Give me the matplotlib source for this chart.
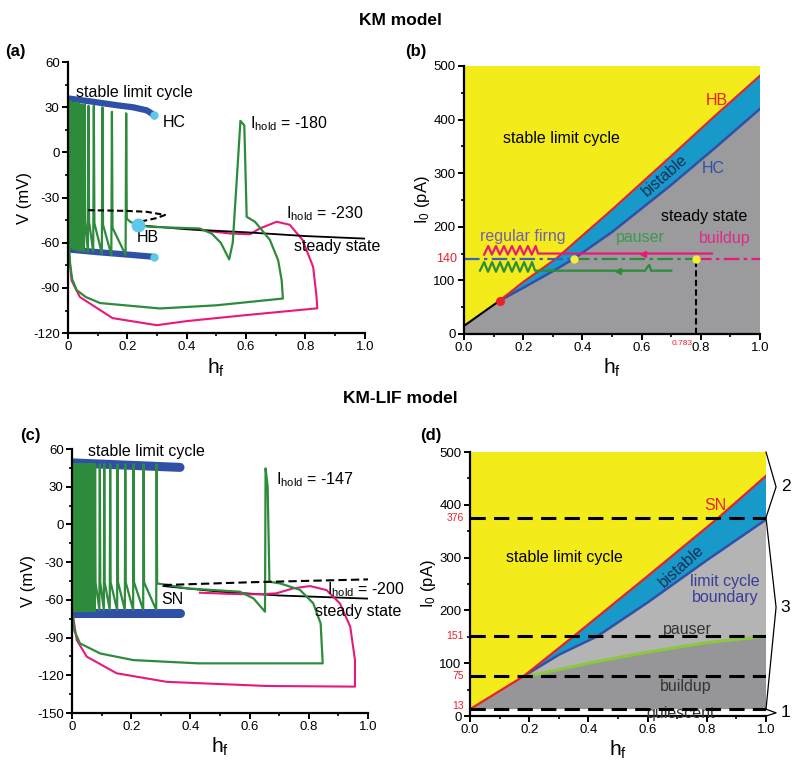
import numpy as np
import matplotlib
matplotlib.use('Agg')
import matplotlib.pyplot as plt
from matplotlib.ticker import MultipleLocator, FuncFormatter
import matplotlib.transforms as mtransforms

plt.rcParams['font.family'] = ['Liberation Sans', 'DejaVu Sans']
plt.rcParams['mathtext.fontset'] = 'custom'
plt.rcParams['mathtext.rm'] = 'Liberation Sans'
plt.rcParams['mathtext.it'] = 'Liberation Sans'
plt.rcParams['axes.unicode_minus'] = False

# ---------------- colours ----------------
YELLOW = '#f4ec1a'
GRAY = '#9b9b9d'
LGRAY = '#b4b4b4'
DGRAY = '#969698'
BAND = '#1799c9'
RED = '#e8202a'
NAVY = '#3050a8'
GREEN = '#2e8b3c'
PINK = '#e8197a'
CYAN = '#5ec8e8'
LIME = '#8dc63f'

# ---------------- panel (a): KM model, V vs h_f ----------------
a_lc_top_h = [0.0, 0.08, 0.164, 0.22, 0.265, 0.285, 0.29]
a_lc_top_v = [35.9, 33.8, 31.4, 30.0, 28.0, 25.5, 24.0]
a_lc_bot_h = [0.0, 0.1, 0.2, 0.29]
a_lc_bot_v = [-64.4, -66.2, -67.8, -69.3]
a_hc_h = [0.29, 0.29]
a_hc_v = [24.8, -69.3]
a_hb = (0.237, -48.3)
a_unst_h = [0.068, 0.2, 0.265, 0.327, 0.30, 0.242]
a_unst_v = [-38.3, -38.8, -39.4, -41.5, -43.5, -46.0]
a_ss_h = [0.237, 0.4, 0.6, 0.8, 1.0]
a_ss_v = [-48.3, -51.0, -53.0, -55.5, -57.2]

a_spk_h = [0.004, 0.008, 0.012, 0.016, 0.020, 0.024, 0.029, 0.034, 0.040,
           0.047, 0.056, 0.069, 0.087, 0.116, 0.148, 0.196]
a_spk_peak = [34, 34, 33, 33, 33, 33, 33, 33, 32, 32, 32, 31, 31, 30, 27, 26]
a_spk_trough = [-62, -63, -63, -63, -64, -64, -64, -65, -65, -65, -66, -66,
                -66, -67, -68, -68]
a_spk_fall = [-40, -40, -40, -40, -40, -42, -42, -44, -44, -45, -45, -46,
              -47, -48, -50, -44]
a_green_tail_h = [0.21, 0.23, 0.276, 0.40, 0.444, 0.484, 0.515, 0.543, 0.555,
                  0.568, 0.581, 0.594, 0.602, 0.63, 0.68, 0.708, 0.72, 0.724,
                  0.50, 0.31, 0.108, 0.06, 0.029, 0.014, 0.007, 0.004]
a_green_tail_v = [-46, -48, -49.4, -50.2, -50.5, -53.8, -60, -71, -60, -20,
                  21, 18, -42.7, -46, -58, -71.5, -85, -97, -101.5, -103.6,
                  -100, -96, -91.4, -84, -74, -62]
a_pink_h = [0.40, 0.545, 0.613, 0.646, 0.703, 0.747, 0.79, 0.826, 0.837,
            0.84, 0.60, 0.40, 0.299, 0.15, 0.04, 0.012, 0.005]
a_pink_v = [-50.5, -53.8, -54.3, -50.5, -46, -48, -58, -76, -95, -103.5,
            -108, -112, -114.7, -110, -96, -85, -70]

# ---------------- panel (b): KM model, I0 vs h_f ----------------
b_hb_h = [0.12, 0.2, 0.31, 0.5, 0.7, 0.85, 1.0]
b_hb_i = [62, 97, 140, 232, 332, 408, 482]
b_hc_h = [0.12, 0.2, 0.3, 0.37, 0.5, 0.7, 0.85, 1.0]
b_hc_i = [62, 86, 117, 140, 190, 278, 348, 420]
b_lo_h = [0.0, 0.12]
b_lo_i = [15, 62]
b_hold = 140
b_split = [0.37, 0.783]
b_pk_zz_h = [0.068, 0.082, 0.094, 0.108, 0.121, 0.135, 0.148, 0.162, 0.175,
             0.189, 0.202, 0.216, 0.229, 0.242, 0.25]
b_pk_zz_i = [148, 164, 148, 164, 148, 164, 148, 164, 148, 164, 148, 164,
             148, 164, 150]
b_pk_line_h = [0.25, 0.837]
b_pk_line_i = [150, 150]
b_gr_zz_h = [0.054, 0.068, 0.081, 0.095, 0.108, 0.122, 0.135, 0.149, 0.162,
             0.176, 0.189, 0.203, 0.216, 0.23, 0.24]
b_gr_zz_i = [118, 134, 116, 134, 116, 134, 116, 134, 116, 134, 116, 134,
             116, 134, 118]
b_gr_line_h = [0.24, 0.612, 0.62, 0.626, 0.632, 0.70]
b_gr_line_i = [118, 118, 125, 129, 118, 118]
b_arrow_h = [0.606, 0.52]
b_arrow_i = [150, 118]

# ---------------- panel (c): KM-LIF model, V vs h_f ----------------
c_lc_top_h = [0.0, 0.365]
c_lc_top_v = [49.0, 45.4]
c_lc_bot_h = [0.0, 0.365]
c_lc_bot_v = [-70.7, -70.7]
c_unst_h = [0.309, 0.6, 1.0]
c_unst_v = [-48.2, -46.0, -43.7]
c_ss_h = [0.309, 0.5, 0.7, 1.0]
c_ss_v = [-49.0, -53.5, -56.5, -59.0]
c_spk_h = [0.004, 0.008, 0.012, 0.016, 0.020, 0.024, 0.028, 0.032, 0.036,
           0.040, 0.044, 0.048, 0.052, 0.056, 0.060, 0.064, 0.068, 0.072,
           0.078, 0.094, 0.109, 0.129, 0.154, 0.18, 0.208, 0.242, 0.286]
c_spk_peak = [48] * 27
c_spk_trough = [-69, -69, -69, -69, -69, -69, -69, -69, -69, -69, -69, -69,
                -69, -69, -69, -69, -69, -69, -69, -68, -68, -68, -68, -68,
                -68, -68, -68]
c_spk_fall = [-46, -46, -46, -46, -46, -46, -46, -46, -46, -46, -46, -46,
              -46, -46, -46, -46, -46, -46, -46, -46, -46, -46, -46, -46,
              -46, -46, -46.9]
c_green_tail_h = [0.32, 0.387, 0.477, 0.567, 0.613, 0.652, 0.654, 0.661,
                  0.667, 0.703, 0.77, 0.815, 0.84, 0.847, 0.60, 0.428, 0.207,
                  0.095, 0.027, 0.007, 0.003]
c_green_tail_v = [-48, -50.8, -52.2, -53.5, -58.8, -69.4, 44.6, 30, -45.6,
                  -46.9, -52, -62.7, -78.7, -110.5, -110.5, -110.5, -107.9,
                  -102.6, -94.6, -84, -73]
c_pink_h = [0.432, 0.545, 0.633, 0.69, 0.748, 0.804, 0.86, 0.905, 0.94,
            0.956, 0.956, 0.658, 0.32, 0.151, 0.05, 0.016, 0.005]
c_pink_v = [-54.3, -55.3, -55.6, -54.8, -50.8, -49, -52.2, -62.8, -81.3,
            -107.9, -129, -128.5, -125.2, -118.4, -105.2, -92, -75]

# ---------------- panel (d): KM-LIF model, I0 vs h_f ----------------
d_sn_h = [0.0, 0.18, 0.35, 0.6, 0.84, 1.0]
d_sn_i = [13, 75, 151, 265, 376, 455]
d_lcb_h = [0.18, 0.3, 0.43, 0.6, 0.8, 1.0]
d_lcb_i = [75, 116, 151, 215, 295, 372]
d_pb_h = [0.18, 0.2, 0.4, 0.6, 0.8, 1.0]
d_pb_i = [75, 76, 100, 121, 139, 151]
d_levels = [13, 75, 151, 376]
d_brace_top = 500


def spike_train(hs, peaks, troughs, falls, d):
    xs, ys = [], []
    for h, p, t, f in zip(hs, peaks, troughs, falls):
        xs += [h - d, h, h + d]
        ys += [t, p, f]
    return xs, ys


def style_axes(ax, ymaj, ymin, zero_fmt):
    for s in ['top', 'right']:
        ax.spines[s].set_visible(False)
    for s in ['left', 'bottom']:
        ax.spines[s].set_linewidth(1.6)
    ax.xaxis.set_major_locator(MultipleLocator(0.2))
    ax.xaxis.set_minor_locator(MultipleLocator(0.1))
    ax.yaxis.set_major_locator(MultipleLocator(ymaj))
    ax.yaxis.set_minor_locator(MultipleLocator(ymin))
    ax.tick_params(which='major', direction='out', length=4, width=1.4,
                   labelsize=9.5, pad=2)
    ax.tick_params(which='minor', direction='out', length=2.5, width=1.2)
    if zero_fmt:
        ax.xaxis.set_major_formatter(FuncFormatter(
            lambda v, p: '0' if abs(v) < 1e-9 else '%.1f' % v))
    else:
        ax.xaxis.set_major_formatter(FuncFormatter(lambda v, p: '%.1f' % v))
    ax.set_xlim(0, 1.0)
    ax.set_xlabel(r'h$_{\rm f}$', fontsize=15, labelpad=2)


fig = plt.figure(figsize=(8.0, 7.73), dpi=100)

# ===== (a) =====
ax = fig.add_axes([0.085, 0.569, 0.371, 0.3506])
x, y = spike_train(a_spk_h, a_spk_peak, a_spk_trough, a_spk_fall, 0.002)
ax.plot(a_pink_h, a_pink_v, color=PINK, lw=1.5)
ax.plot(a_ss_h, a_ss_v, color='black', lw=1.3)
ax.plot(a_lc_top_h, a_lc_top_v, color=NAVY, lw=4.5, solid_capstyle='round')
ax.plot(a_lc_bot_h, a_lc_bot_v, color=NAVY, lw=4.5, solid_capstyle='round')
ax.plot(x + a_green_tail_h, y + a_green_tail_v, color=GREEN, lw=1.6)
ax.plot(a_unst_h, a_unst_v, color='black', lw=1.5, ls=(0, (3, 1.6)))
ax.plot(a_hc_h, a_hc_v, 'o', color=CYAN, ms=5, zorder=5)
ax.plot([a_hb[0]], [a_hb[1]], 'o', color=CYAN, ms=9, zorder=5)
ax.set_ylim(-120, 60)
style_axes(ax, 30, 15, True)
ax.set_ylabel('V (mV)', fontsize=12, labelpad=1)
ax.text(0.027, 40, 'stable limit cycle', fontsize=11.5, va='center')
ax.text(0.32, 19.7, 'HC', fontsize=11.5, va='center')
ax.text(0.613, 19, r'I$_{\rm hold}$ = -180', fontsize=11.5, va='center')
ax.text(0.734, -40.5, r'I$_{\rm hold}$ = -230', fontsize=11.5, va='center')
ax.text(0.27, -56.7, 'HB', fontsize=11.5, va='center', ha='center')
ax.text(0.907, -62.7, 'steady state', fontsize=11.5, va='center',
        ha='center')

# ===== (b) =====
ax = fig.add_axes([0.58, 0.568, 0.37, 0.3467])
ax.set_facecolor(YELLOW)
gx = [0.0] + b_lo_h + b_hc_h[1:] + [1.0]
gy = [0.0] + b_lo_i + b_hc_i[1:] + [0.0]
ax.fill(gx, gy, color=GRAY, lw=0)
ax.fill(b_hb_h + b_hc_h[::-1], b_hb_i + b_hc_i[::-1], color=BAND, lw=0)
ax.plot(b_hc_h, b_hc_i, color=NAVY, lw=1.8)
ax.plot(b_hb_h, b_hb_i, color=RED, lw=1.5)
ax.plot(b_lo_h, b_lo_i, color='black', lw=1.5)
ax.plot([b_lo_h[1]], [b_lo_i[1]], 'o', color=RED, ms=5.5, zorder=6)
ax.plot([0, b_split[0]], [b_hold, b_hold], color='#3b5fc4', lw=1.6,
        ls=(0, (7, 2, 1.5, 2)))
ax.plot([b_split[0], b_split[1]], [b_hold, b_hold], color=GREEN, lw=1.6,
        ls=(0, (7, 2, 1.5, 2)))
ax.plot([b_split[1], 1.0], [b_hold, b_hold], color=PINK, lw=1.6,
        ls=(0, (7, 2, 1.5, 2)))
ax.plot([b_split[1], b_split[1]], [0, b_hold], color='black', lw=1.5,
        ls=(0, (3, 1.6)))
ax.plot(b_pk_zz_h + b_pk_line_h, b_pk_zz_i + b_pk_line_i, color=PINK, lw=1.6)
ax.plot(b_gr_zz_h + b_gr_line_h, b_gr_zz_i + b_gr_line_i, color=GREEN, lw=1.6)
ax.plot(b_arrow_h[:1], b_arrow_i[:1], '<', color=PINK, ms=5)
ax.plot(b_arrow_h[1:], b_arrow_i[1:], '<', color=GREEN, ms=5)
ax.plot(b_split, [b_hold, b_hold], 'o', color='#f2ee3a', ms=5, zorder=6)
ax.set_ylim(0, 500)
style_axes(ax, 100, 50, False)
ax.set_ylabel(r'I$_0$ (pA)', fontsize=12, labelpad=1)
trb = mtransforms.blended_transform_factory(ax.transAxes, ax.transData)
ax.text(-0.025, b_hold, '140', transform=trb, color=RED, fontsize=9,
        ha='right', va='center')
trx = mtransforms.blended_transform_factory(ax.transData, ax.transAxes)
ax.text(b_split[1] - 0.012, -0.035, '0.783', transform=trx, color=RED,
        fontsize=6, ha='right', va='center')
ax.text(0.33, 365, 'stable limit cycle', fontsize=11.5, ha='center',
        va='center')
ax.text(0.68, 296, 'bistable', fontsize=11.5, ha='center', va='center',
        rotation=41, color='#1b2f55')
ax.text(0.853, 435, 'HB', fontsize=11.5, ha='center', va='center', color=RED)
ax.text(0.842, 309, 'HC', fontsize=11.5, ha='center', va='center', color=NAVY)
ax.text(0.81, 220, 'steady state', fontsize=11.5, ha='center', va='center')
ax.text(0.2, 181, 'regular firng', fontsize=11.5, ha='center', va='center',
        color='#7060b0')
ax.text(0.597, 180, 'pauser', fontsize=11.5, ha='center', va='center',
        color='#3a9a4a')
ax.text(0.88, 178, 'buildup', fontsize=11.5, ha='center', va='center',
        color='#e0288a')

# ===== (c) =====
ax = fig.add_axes([0.09, 0.0776, 0.37, 0.3415])
x, y = spike_train(c_spk_h, c_spk_peak, c_spk_trough, c_spk_fall, 0.0015)
ax.plot(c_ss_h, c_ss_v, color='black', lw=1.3)
ax.plot(c_pink_h, c_pink_v, color=PINK, lw=1.5)
ax.plot(c_lc_top_h, c_lc_top_v, color=NAVY, lw=6.5, solid_capstyle='round')
ax.plot(c_lc_bot_h, c_lc_bot_v, color=NAVY, lw=6.5, solid_capstyle='round')
ax.plot(x + c_green_tail_h, y + c_green_tail_v, color=GREEN, lw=1.6)
ax.plot(c_unst_h, c_unst_v, color='black', lw=1.5, ls=(0, (4, 2)))
ax.set_ylim(-150, 60)
style_axes(ax, 30, 15, True)
ax.set_ylabel('V (mV)', fontsize=12, labelpad=1)
ax.text(0.055, 58, 'stable limit cycle', fontsize=11.5, va='center')
ax.text(0.69, 35.3, r'I$_{\rm hold}$ = -147', fontsize=11.5, va='center')
ax.text(0.86, -52, r'I$_{\rm hold}$ = -200', fontsize=11.5, va='center')
ax.text(0.34, -59.6, 'SN', fontsize=11.5, ha='center', va='center')
ax.text(0.82, -68.9, 'steady state', fontsize=11.5, va='center')

# ===== (d) =====
ax = fig.add_axes([0.5875, 0.0737, 0.37, 0.3415])
ax.set_facecolor(YELLOW)
ax.fill([0, 1, 1, 0], [0, 0, d_levels[0], d_levels[0]], color='white', lw=0)
dgx = d_sn_h[:2] + d_pb_h[1:] + [1.0]
dgy = d_sn_i[:2] + d_pb_i[1:] + [d_levels[0]]
ax.fill(dgx, dgy, color=DGRAY, lw=0)
ax.fill(d_lcb_h + d_pb_h[::-1], d_lcb_i + d_pb_i[::-1], color=LGRAY, lw=0)
ax.fill(d_sn_h[1:] + d_lcb_h[::-1], d_sn_i[1:] + d_lcb_i[::-1], color=BAND,
        lw=0)
ax.plot(d_lcb_h, d_lcb_i, color=NAVY, lw=1.8)
ax.plot(d_pb_h[1:], d_pb_i[1:], color=LIME, lw=2.2)
ax.plot(d_sn_h, d_sn_i, color=RED, lw=1.6)
for lv in d_levels:
    ax.plot([0, 1], [lv, lv], color='black', lw=2.2, ls=(0, (5, 2.7)),
            zorder=5)
ax.set_ylim(0, 500)
style_axes(ax, 100, 50, False)
ax.set_ylabel(r'I$_0$ (pA)', fontsize=12, labelpad=1)
trd = mtransforms.blended_transform_factory(ax.transAxes, ax.transData)
for lv in d_levels:
    ax.text(-0.02, lv + (6 if lv == d_levels[0] else 0), str(lv),
            transform=trd, color=RED, fontsize=7.5, ha='right', va='center')
ax.text(0.318, 300, 'stable limit cycle', fontsize=11.5, ha='center',
        va='center')
ax.text(0.716, 283, 'bistable', fontsize=11.5, ha='center', va='center',
        rotation=42, color='#1b2f55')
ax.text(0.83, 399, 'SN', fontsize=11.5, ha='center', va='center', color=RED)
ax.text(0.862, 240, 'limit cycle\nboundary', fontsize=11.5, ha='center',
        va='center', color='#3a3a9a', linespacing=1.1)
ax.text(0.735, 163, 'pauser', fontsize=11.5, ha='center', va='center',
        color='#333333')
ax.text(0.73, 56, 'buildup', fontsize=11.5, ha='center', va='center',
        color='#333333')
ax.text(0.71, 5, 'quiescent', fontsize=11.5, ha='center', va='center',
        color='#333333', zorder=4)
# right-hand brackets
bx = [1.0, 1.034, 1.0]
for top, apex, bot, lab in [(d_brace_top, 434, d_levels[3], '2'),
                            (d_levels[3], 206, d_levels[0], '3'),
                            (d_levels[0], 6, 0, '1')]:
    ax.plot(bx, [top, apex, bot], color='black', lw=0.9, clip_on=False)
    ax.text(1.05, apex, lab, fontsize=12.5, va='center', ha='left')

# ---------------- titles / panel labels ----------------
fig.text(0.5, 0.974, 'KM model', fontsize=12.5, weight='bold', ha='center',
         va='center')
fig.text(0.5, 0.485, 'KM-LIF model', fontsize=12.5, weight='bold',
         ha='center', va='center')
fig.text(0.006, 0.933, '(a)', fontsize=12, weight='bold', va='center')
fig.text(0.506, 0.933, '(b)', fontsize=12, weight='bold', va='center')
fig.text(0.025, 0.437, '(c)', fontsize=12, weight='bold', va='center')
fig.text(0.525, 0.437, '(d)', fontsize=12, weight='bold', va='center')

fig.savefig('out.png', dpi=100)
